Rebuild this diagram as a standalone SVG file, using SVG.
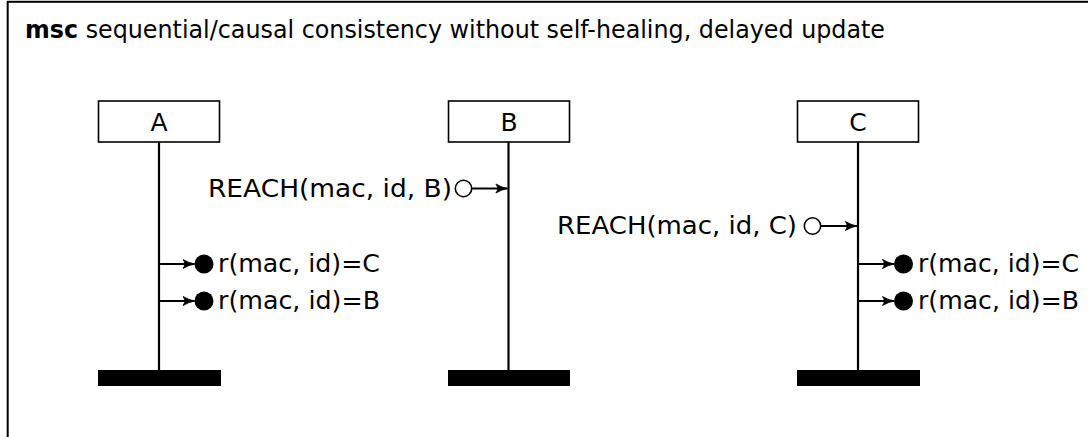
<svg xmlns="http://www.w3.org/2000/svg" width="1088" height="437" viewBox="0 0 1088 437">
  <style>
    text { font-family: "DejaVu Sans", "Liberation Sans", sans-serif; fill: #000; }
    .title { font-size: 24px; }
    .lbl { font-size: 25px; }
    .msg { font-size: 24px; }
    .box { fill: #fff; stroke: #000; stroke-width: 1.6; }
    .life { stroke: #000; stroke-width: 2.2; fill: none; }
    .bar { fill: #000; }
    .arr { stroke: #000; stroke-width: 1.8; fill: none; marker-end: url(#head); }
    .hollow { fill: #fff; stroke: #000; stroke-width: 1.6; }
    .dot { fill: #000; }
  </style>
  <defs>
    <marker id="head" viewBox="0 0 13 12" refX="12" refY="6" markerWidth="13" markerHeight="12" markerUnits="userSpaceOnUse" orient="auto">
      <path d="M0.5,1.5 Q6,4.8 12,6 Q6,7.2 0.5,10.5 Q4,6 0.5,1.5 z" fill="#000" stroke="#000" stroke-width="0.8" stroke-linejoin="round"/>
    </marker>
  </defs>
  <rect x="7.7" y="1.8" width="1200" height="600" fill="none" stroke="#000" stroke-width="2"/>
  <text class="title" x="25" y="37.5" textLength="860" lengthAdjust="spacingAndGlyphs"><tspan font-weight="bold">msc</tspan> sequential/causal consistency without self-healing, delayed update</text>

  <g id="A">
    <rect class="box" x="98.5" y="101" width="121" height="41"/>
    <text class="lbl" x="159" y="131" text-anchor="middle">A</text>
    <line class="life" x1="159" y1="142" x2="159" y2="371"/>
    <rect class="bar" x="98" y="370" width="123" height="16"/>
  </g>
  <g id="B">
    <rect class="box" x="448.5" y="101" width="121" height="41"/>
    <text class="lbl" x="509" y="131" text-anchor="middle">B</text>
    <line class="life" x1="508.5" y1="142" x2="508.5" y2="371"/>
    <rect class="bar" x="448" y="370" width="122" height="16"/>
  </g>
  <g id="C">
    <rect class="box" x="797.5" y="101" width="121" height="41"/>
    <text class="lbl" x="858" y="131" text-anchor="middle">C</text>
    <line class="life" x1="858" y1="142" x2="858" y2="371"/>
    <rect class="bar" x="797" y="370" width="123" height="16"/>
  </g>

  <g id="connectors">
    <text class="msg" x="208" y="196.5" textLength="244" lengthAdjust="spacingAndGlyphs">REACH(mac, id, B)</text>
    <circle class="hollow" cx="463.5" cy="188.5" r="8.2"/>
    <line class="arr" x1="471.7" y1="188.5" x2="507.4" y2="188.5"/>

    <text class="msg" x="557" y="234" textLength="240" lengthAdjust="spacingAndGlyphs">REACH(mac, id, C)</text>
    <circle class="hollow" cx="812.5" cy="226" r="8.2"/>
    <line class="arr" x1="820.7" y1="226" x2="856.9" y2="226"/>

    <line class="arr" x1="160" y1="264" x2="194.5" y2="264"/>
    <circle class="dot" cx="204" cy="264" r="9.5"/>
    <text class="msg" x="218" y="272" textLength="162" lengthAdjust="spacingAndGlyphs">r(mac, id)=C</text>
    <line class="arr" x1="160" y1="301" x2="194.5" y2="301"/>
    <circle class="dot" cx="204" cy="301" r="9.5"/>
    <text class="msg" x="218" y="309" textLength="162" lengthAdjust="spacingAndGlyphs">r(mac, id)=B</text>

    <line class="arr" x1="859" y1="264" x2="894" y2="264"/>
    <circle class="dot" cx="903.5" cy="264" r="9.5"/>
    <text class="msg" x="918" y="272" textLength="161" lengthAdjust="spacingAndGlyphs">r(mac, id)=C</text>
    <line class="arr" x1="859" y1="301" x2="894" y2="301"/>
    <circle class="dot" cx="903.5" cy="301" r="9.5"/>
    <text class="msg" x="918" y="309" textLength="161" lengthAdjust="spacingAndGlyphs">r(mac, id)=B</text>
  </g>
</svg>
